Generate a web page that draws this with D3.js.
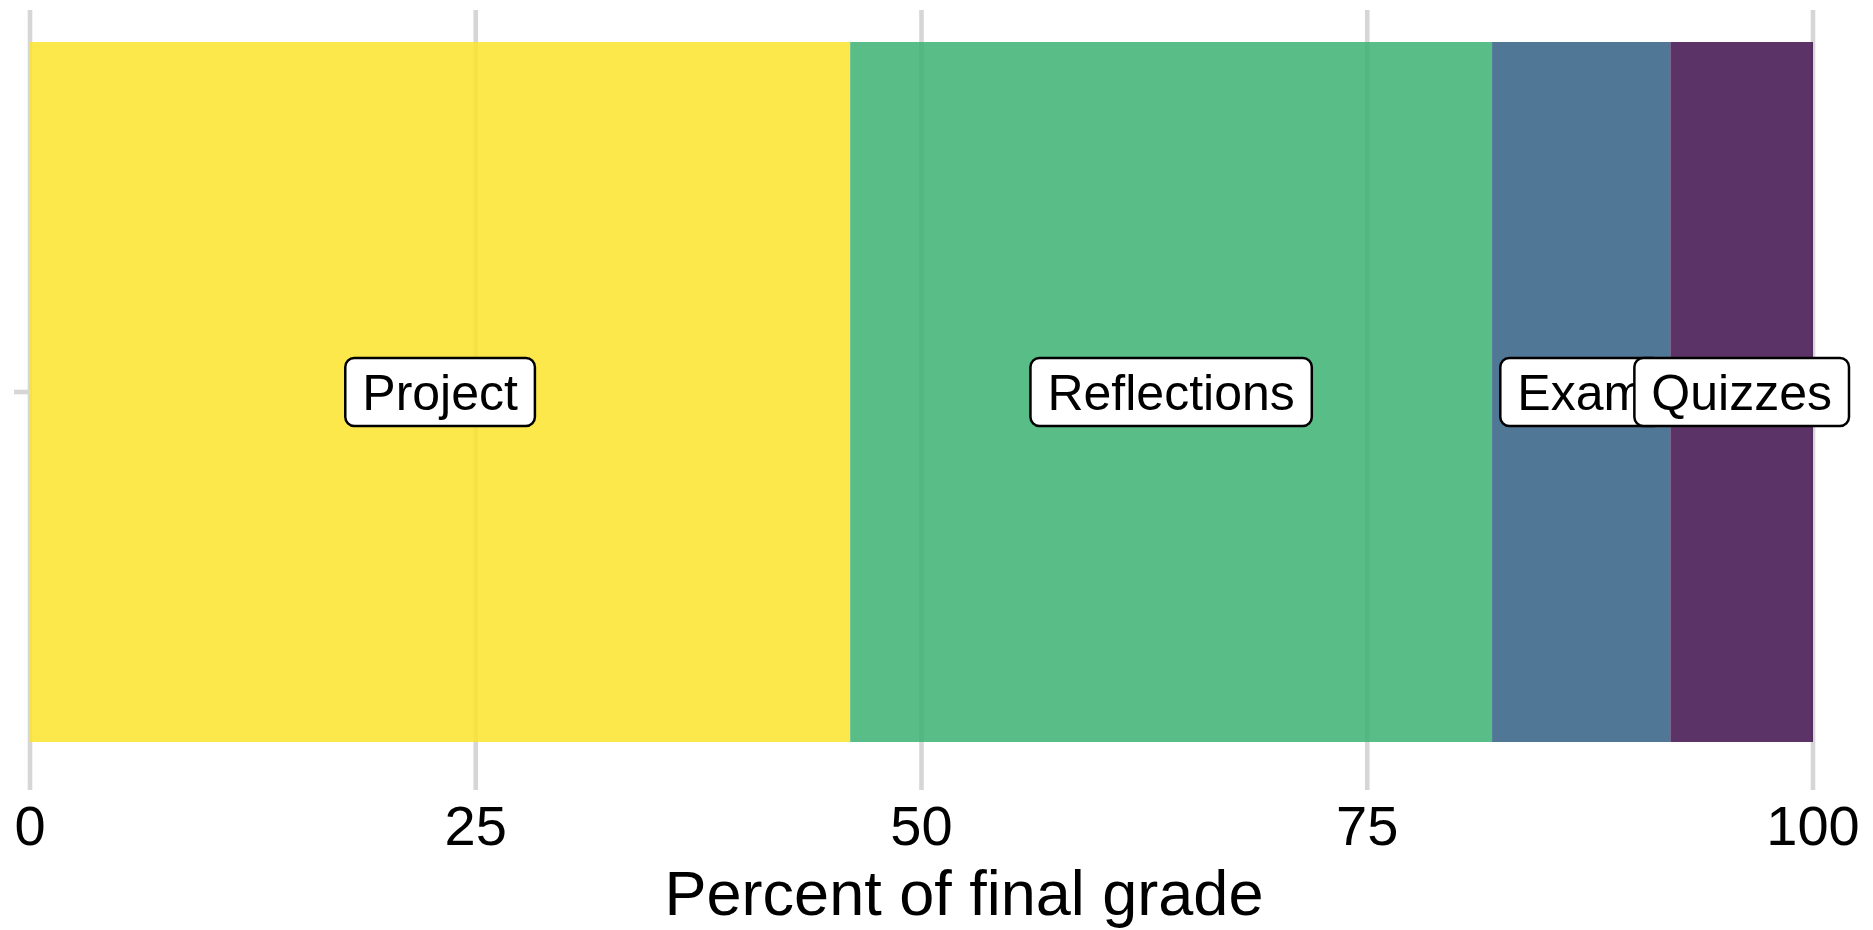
<!DOCTYPE html>
<html>
<head>
    <meta charset="utf-8">
    <title>Percent of final grade</title>
    <script src="https://cdn.jsdelivr.net/npm/d3@7"></script>
    <style>
        body { margin: 0; background: #fff; }
        text { font-family: "Liberation Sans", Arial, Helvetica, sans-serif; }
    </style>
</head>

<body>
    <svg width="1873" height="930" id="mainsvg"></svg>
    <script>
        // data
        const categories = ['Project', 'Reflections', 'Exam', 'Quizzes'];
        const percents = [46, 36, 10, 8];
        const xTicks = [0, 25, 50, 75, 100];
        const colours = ['#fce42b', '#3bb272', '#335f85', '#3f0f4b'];

        const svg = d3.select('#mainsvg');

        const x = d3.scaleLinear().domain([0, 100]).range([30, 1813]);
        const y = d3.scaleBand().domain(['grade']).range([42, 742]);
        const color = d3.scaleOrdinal().domain(categories).range(colours);

        const ends = d3.cumsum(percents);
        const segs = categories.map((c, i) => ({
            name: c,
            x0: ends[i] - percents[i],
            x1: ends[i]
        }));

        // vertical grid lines (under the bars)
        svg.append('g').selectAll('line').data(xTicks).join('line')
            .attr('x1', d => x(d)).attr('x2', d => x(d))
            .attr('y1', 10).attr('y2', 790)
            .attr('stroke', '#d6d6d6')
            .attr('stroke-width', 4.6);

        // y tick
        svg.append('line')
            .attr('x1', 14).attr('x2', 28)
            .attr('y1', y('grade') + y.bandwidth() / 2)
            .attr('y2', y('grade') + y.bandwidth() / 2)
            .attr('stroke', '#d6d6d6')
            .attr('stroke-width', 4.6);

        // stacked bar
        svg.append('g').selectAll('rect').data(segs).join('rect')
            .attr('x', d => x(d.x0))
            .attr('width', d => x(d.x1) - x(d.x0))
            .attr('y', y('grade'))
            .attr('height', y.bandwidth())
            .attr('fill', d => color(d.name))
            .attr('fill-opacity', 0.85);

        // tick labels
        svg.append('g').selectAll('text').data(xTicks).join('text')
            .attr('x', d => x(d))
            .attr('y', 845)
            .attr('text-anchor', 'middle')
            .attr('font-size', 56)
            .attr('fill', '#000')
            .text(d => d);

        // axis title
        svg.append('text')
            .attr('x', 964)
            .attr('y', 915)
            .attr('text-anchor', 'middle')
            .attr('font-size', 63)
            .attr('fill', '#000')
            .text('Percent of final grade');

        // labels in boxes
        const cy = y('grade') + y.bandwidth() / 2;
        const lab = svg.append('g').selectAll('g').data(segs).join('g')
            .attr('transform', d => `translate(${x((d.x0 + d.x1) / 2)},${cy})`);

        lab.append('rect')
            .attr('fill', '#fff')
            .attr('stroke', '#000')
            .attr('stroke-width', 2.5)
            .attr('rx', 9).attr('ry', 9);

        lab.append('text')
            .attr('text-anchor', 'middle')
            .attr('y', 17.5)
            .attr('font-size', 50)
            .attr('fill', '#000')
            .text(d => d.name);

        lab.each(function() {
            const g = d3.select(this);
            const w = g.select('text').node().getComputedTextLength();
            g.select('rect')
                .attr('x', -w / 2 - 17)
                .attr('width', w + 34)
                .attr('y', -34)
                .attr('height', 68);
        });
    </script>
</body>
</html>
